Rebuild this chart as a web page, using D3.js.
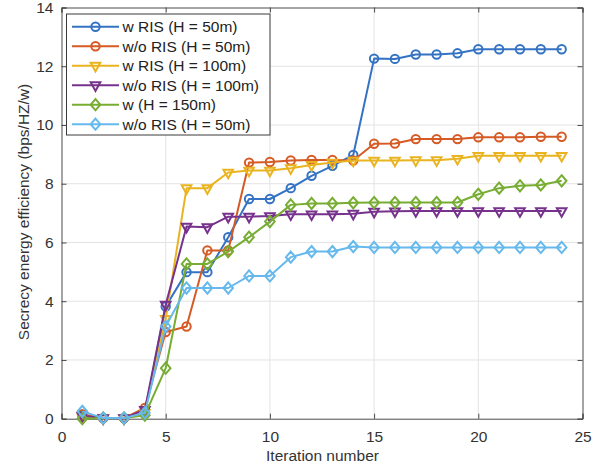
<!DOCTYPE html>
<html>
<head>
<meta charset="utf-8">
<script src="https://cdn.jsdelivr.net/npm/d3@7"></script>
<style>
  html, body { margin: 0; padding: 0; background: #fff; }
  svg { display: block; font-family: "Liberation Sans", Arial, sans-serif; }
</style>
</head>
<body>
<svg id="chart" width="602" height="469"></svg>
<script>
// Iterations on the x axis
const iterations = d3.range(1, 25);

// Secrecy energy efficiency per iteration, one array per configuration
const wRis50 = [0.12, 0.02, 0.02, 0.20, 3.82, 4.99, 4.99, 6.18, 7.48, 7.48, 7.85, 8.27,
                8.61, 8.98, 12.26, 12.25, 12.40, 12.40, 12.44, 12.58, 12.58, 12.58, 12.58, 12.58];
const woRis50 = [0.15, 0.02, 0.02, 0.37, 2.95, 3.14, 5.73, 5.73, 8.72, 8.74, 8.79, 8.81,
                 8.81, 8.79, 9.36, 9.37, 9.52, 9.52, 9.52, 9.58, 9.58, 9.58, 9.60, 9.60];
const wRis100 = [0.05, 0.02, 0.02, 0.20, 3.40, 7.85, 7.85, 8.38, 8.45, 8.45, 8.53, 8.64,
                 8.72, 8.79, 8.79, 8.79, 8.80, 8.80, 8.85, 8.95, 8.95, 8.95, 8.95, 8.95];
const woRis100 = [0.10, 0.02, 0.02, 0.30, 3.88, 6.54, 6.52, 6.88, 6.88, 6.90, 6.96, 6.96,
                  6.96, 6.98, 7.05, 7.06, 7.07, 7.07, 7.07, 7.07, 7.07, 7.07, 7.07, 7.07];
const w150 = [0.00, 0.02, 0.02, 0.12, 1.72, 5.27, 5.27, 5.69, 6.18, 6.71, 7.28, 7.33,
              7.33, 7.35, 7.36, 7.36, 7.36, 7.36, 7.36, 7.64, 7.85, 7.93, 7.96, 8.10];
const woRis50b = [0.25, 0.02, 0.02, 0.20, 3.14, 4.45, 4.45, 4.45, 4.86, 4.86, 5.50, 5.69,
                  5.69, 5.86, 5.83, 5.83, 5.83, 5.83, 5.83, 5.83, 5.83, 5.83, 5.83, 5.83];

const seriesNames = ["w RIS (H = 50m)", "w/o RIS (H = 50m)", "w RIS (H = 100m)",
                     "w/o RIS (H = 100m)", "w (H = 150m)", "w/o RIS (H = 50m)"];
const seriesValues = [wRis50, woRis50, wRis100, woRis100, w150, woRis50b];
const seriesColors = ["#3473c4", "#d65a24", "#e9b420", "#76328c", "#77ad32", "#66b9ec"];
const seriesMarkers = ["circle", "circle", "triangle", "triangle", "diamond", "diamond"];

const xTicks = [0, 5, 10, 15, 20, 25];
const yTicks = [0, 2, 4, 6, 8, 10, 12, 14];
const xTitle = "Iteration number";
const yTitle = "Secrecy energy efficiency (bps/HZ/w)";

const svg = d3.select("#chart");
const pLeft = 61.5, pRight = 582.5, pTop = 7.5, pBottom = 418.7;
const fontSize = "15.5px";

const x = d3.scaleLinear().domain([0, 25]).range([pLeft, pRight]);
const y = d3.scaleLinear().domain([0, 14]).range([pBottom, pTop]);

const axisColor = "#4a4a4a";
const textColor = "#333";

// grid
const grid = svg.append("g");
grid.selectAll("line.gx").data(xTicks.slice(1, -1)).join("line")
  .attr("x1", d => x(d)).attr("x2", d => x(d))
  .attr("y1", pTop).attr("y2", pBottom)
  .attr("stroke", "#e3e3e3").attr("stroke-width", 1);
grid.selectAll("line.gy").data(yTicks.slice(1, -1)).join("line")
  .attr("x1", pLeft).attr("x2", pRight)
  .attr("y1", d => y(d)).attr("y2", d => y(d))
  .attr("stroke", "#e3e3e3").attr("stroke-width", 1);

// axes with inward ticks
const tickLen = 5;
const axB = svg.append("g").attr("transform", `translate(0,${pBottom})`)
  .call(d3.axisBottom(x).tickValues(xTicks).tickSize(-tickLen).tickPadding(12).tickFormat(d3.format("d")));
const axL = svg.append("g").attr("transform", `translate(${pLeft},0)`)
  .call(d3.axisLeft(y).tickValues(yTicks).tickSize(-tickLen).tickPadding(8).tickFormat(d3.format("d")));
const axT = svg.append("g").attr("transform", `translate(0,${pTop})`)
  .call(d3.axisTop(x).tickValues(xTicks).tickSize(-tickLen).tickFormat(""));
const axR = svg.append("g").attr("transform", `translate(${pRight},0)`)
  .call(d3.axisRight(y).tickValues(yTicks).tickSize(-tickLen).tickFormat(""));

[axB, axL, axT, axR].forEach(g => {
  g.select(".domain").attr("stroke", axisColor).attr("stroke-width", 1);
  g.selectAll(".tick line").attr("stroke", axisColor).attr("stroke-width", 1);
  g.selectAll(".tick text").attr("fill", textColor)
    .style("font-size", fontSize).style("font-family", "'Liberation Sans', Arial, sans-serif");
});

// marker shapes
function markerPath(kind) {
  if (kind === "circle") return d3.symbol(d3.symbolCircle, Math.PI * 4.2 * 4.2)();
  if (kind === "triangle") {
    const w = 9.6, h = 8.6;
    return `M${-w / 2},${-h / 3}L${w / 2},${-h / 3}L0,${2 * h / 3}Z`;
  }
  const hw = 4.8, hh = 5.6;
  return `M0,${-hh}L${hw},0L0,${hh}L${-hw},0Z`;
}

const line = d3.line().x((d, i) => x(iterations[i])).y(d => y(d));

const plot = svg.append("g");
seriesValues.forEach((vals, s) => {
  const g = plot.append("g");
  g.append("path").datum(vals)
    .attr("d", line)
    .attr("fill", "none")
    .attr("stroke", seriesColors[s])
    .attr("stroke-width", 2)
    .attr("stroke-linejoin", "round");
  g.selectAll("path.mk").data(vals).join("path")
    .attr("class", "mk")
    .attr("transform", (d, i) => `translate(${x(iterations[i])},${y(d)})`)
    .attr("d", markerPath(seriesMarkers[s]))
    .attr("fill", "none")
    .attr("stroke", seriesColors[s])
    .attr("stroke-width", 2);
});

// axis titles
svg.append("text")
  .attr("x", 322.5).attr("y", 461)
  .attr("text-anchor", "middle")
  .attr("fill", textColor)
  .style("font-size", fontSize)
  .text(xTitle);
svg.append("text")
  .attr("transform", `translate(25,212) rotate(-90)`)
  .attr("text-anchor", "middle")
  .attr("dominant-baseline", "middle")
  .attr("fill", textColor)
  .style("font-size", fontSize)
  .text(yTitle);

// legend
const legend = svg.append("g");
const lgX = 66.5, lgY = 14, lgW = 203.5, lgH = 121;
legend.append("rect")
  .attr("x", lgX).attr("y", lgY).attr("width", lgW).attr("height", lgH)
  .attr("fill", "#fff").attr("stroke", "#3a3a3a").attr("stroke-width", 1);
const rowY = i => 26.7 + i * 19.5;
seriesNames.forEach((name, s) => {
  const ry = rowY(s);
  legend.append("line")
    .attr("x1", 72).attr("x2", 119).attr("y1", ry).attr("y2", ry)
    .attr("stroke", seriesColors[s]).attr("stroke-width", 2);
  legend.append("path")
    .attr("transform", `translate(95.5,${ry})`)
    .attr("d", markerPath(seriesMarkers[s]))
    .attr("fill", "none").attr("stroke", seriesColors[s]).attr("stroke-width", 2);
  legend.append("text")
    .attr("x", 122.5).attr("y", ry)
    .attr("dominant-baseline", "central")
    .attr("fill", "#222")
    .style("font-size", fontSize)
    .text(name);
});
</script>
</body>
</html>
